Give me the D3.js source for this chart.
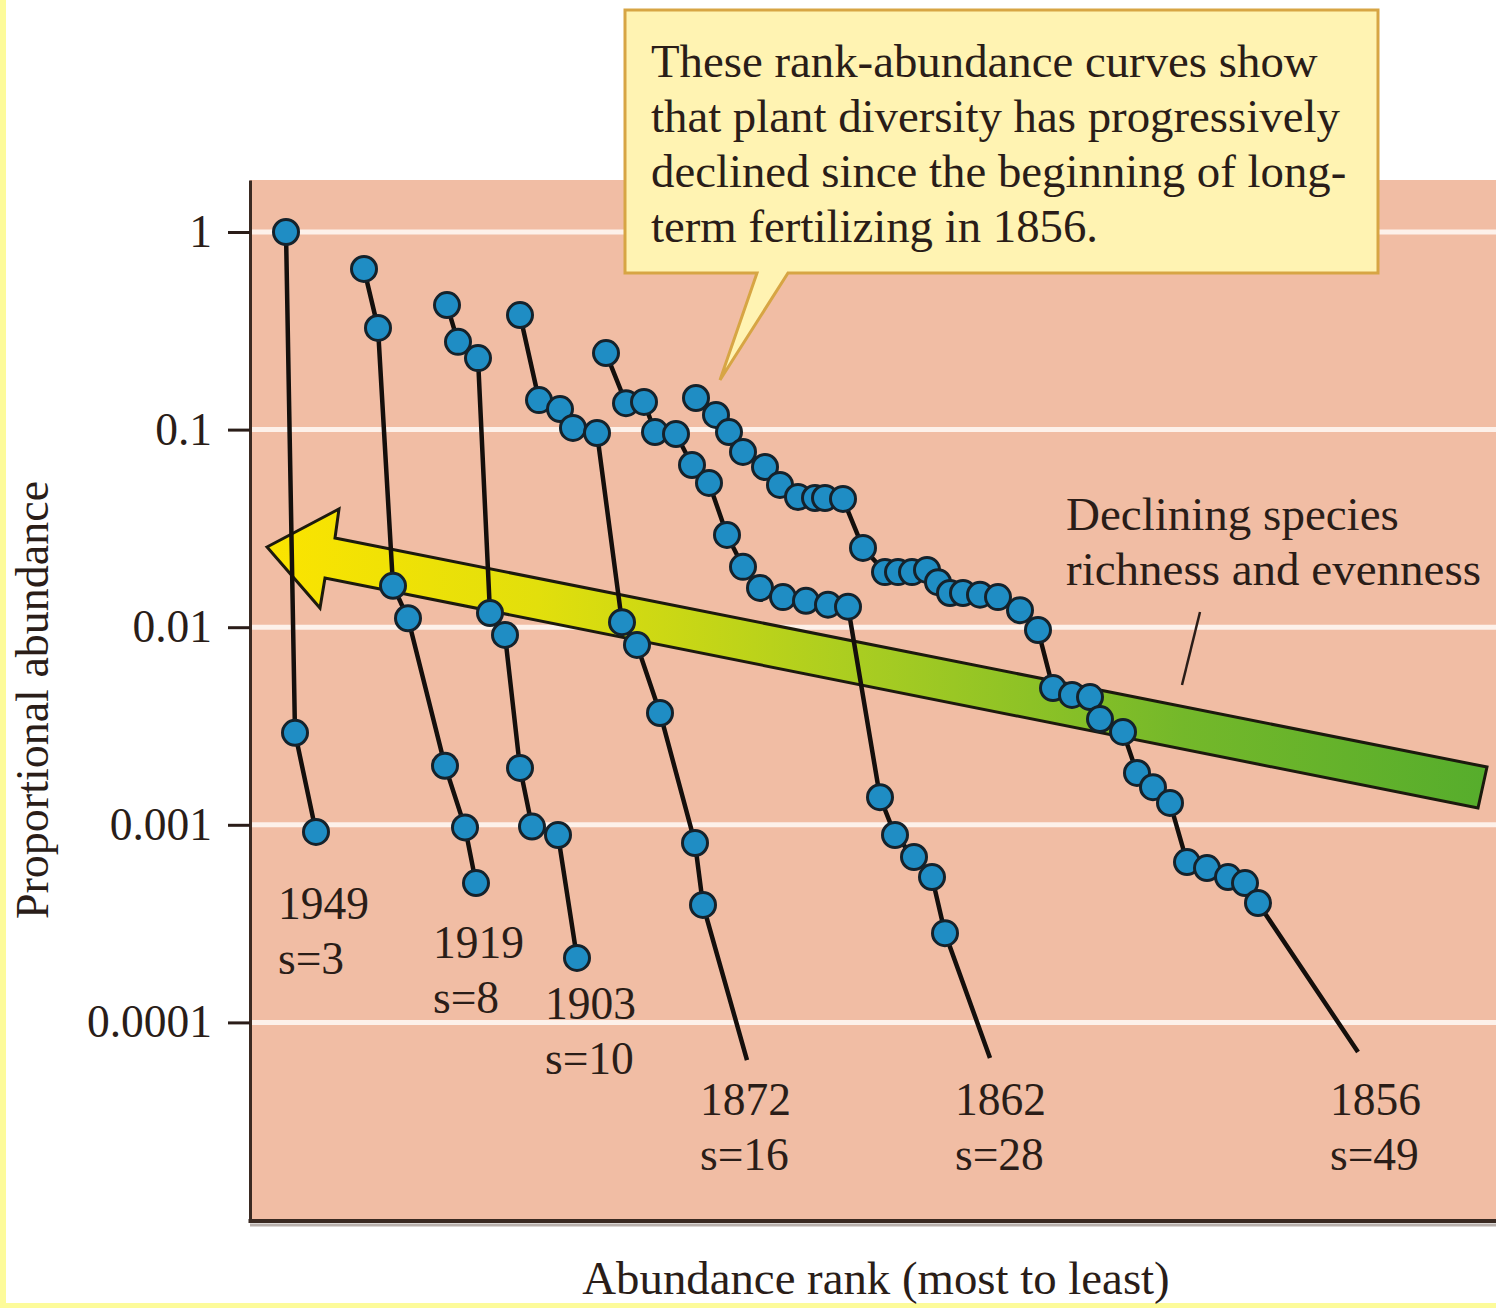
<!DOCTYPE html>
<html>
<head>
<meta charset="utf-8">
<script src="https://cdn.jsdelivr.net/npm/d3@7"></script>
<style>
  html, body { margin: 0; padding: 0; background: #ffffff; }
  svg { display: block; }
  text { font-family: "Liberation Serif", "Times New Roman", serif; fill: #2a1d18; }
</style>
</head>
<body>
<div id="chart"></div>
<script>
// Rank-abundance curves (rank position, proportional abundance)
const years = ["1949", "1919", "1903", "1872", "1862", "1856"];
const speciesCounts = [3, 8, 10, 16, 28, 49];

const ranks1949 = [3.6, 4.5, 6.6];
const abund1949 = [1, 0.00292, 0.00092];

const ranks1919 = [11.4, 12.8, 14.3, 15.8, 19.5, 21.5, 22.6];
const abund1919 = [0.65, 0.327, 0.0162, 0.0111, 0.00199, 0.00097, 0.000507];

const ranks1903 = [19.7, 20.8, 22.8, 24.0, 25.5, 27.0, 28.2, 30.8, 32.7];
const abund1903 = [0.427, 0.278, 0.23, 0.0118, 0.00914, 0.00194, 0.00098, 0.000888, 0.000212];

const ranks1872 = [27.0, 28.9, 31.0, 32.3, 34.7, 37.2, 38.7, 41.0, 44.5, 45.3];
const abund1872 = [0.38, 0.141, 0.127, 0.102, 0.0961, 0.0106, 0.00813, 0.00368, 0.000809, 0.000393];

const ranks1862 = [35.6, 37.6, 39.4, 40.5, 42.6, 44.2, 45.9, 47.7, 49.3, 51.0,
  53.3, 55.6, 57.8, 59.8, 63.0, 64.5, 66.4, 68.2, 69.5];
const abund1862 = [0.244, 0.136, 0.138, 0.0972, 0.095, 0.0662, 0.0537, 0.0293, 0.0202, 0.0158,
  0.0142, 0.0136, 0.013, 0.0127, 0.00138, 0.000888, 0.000687, 0.000544, 0.000283];

const ranks1856 = [44.6, 46.6, 47.9, 49.3, 51.5, 53.0, 54.8, 56.5, 57.5, 59.3,
  61.3, 63.5, 64.8, 66.2, 67.7, 68.8, 70.0, 71.3, 73.0, 74.8,
  77.0, 78.8, 80.3, 82.2, 84.0, 85.0, 87.3, 88.7, 90.3, 92.0,
  93.7, 95.7, 97.8, 99.5, 100.8];
const abund1856 = [0.1445, 0.1186, 0.0972, 0.0771, 0.0647, 0.0525, 0.0456, 0.0451, 0.0451, 0.0446,
  0.0252, 0.019, 0.019, 0.019, 0.0195, 0.0169, 0.0149, 0.0149, 0.0146, 0.0142,
  0.0122, 0.00968, 0.00492, 0.00454, 0.00443, 0.00343, 0.00295, 0.00183, 0.00155, 0.00129,
  0.000648, 0.000604, 0.000544, 0.000507, 0.000402];

// where the unmarked tail of a curve ends
const tailRanks = [null, null, null, 49.7, 74.0, 110.8];
const tailAbund = [null, null, null, 0.0000645, 0.0000661, 0.0000708];

const yTicks = [1, 0.1, 0.01, 0.001, 0.0001];
const yTickLabels = ["1", "0.1", "0.01", "0.001", "0.0001"];

const calloutLines = [
  "These rank-abundance curves show",
  "that plant diversity has progressively",
  "declined since the beginning of long-",
  "term fertilizing in 1856."
];
const arrowLines = ["Declining species", "richness and evenness"];

// ---- layout ----
const width = 1496, height = 1308;
const plot = { left: 250, right: 1496, top: 180, bottom: 1220 };
const labelPos = [[278, 919], [433, 958], [545, 1019], [700, 1115], [955, 1115], [1330, 1115]];

const allRanks = [ranks1949, ranks1919, ranks1903, ranks1872, ranks1862, ranks1856];
const allAbund = [abund1949, abund1919, abund1903, abund1872, abund1862, abund1856];

const series = years.map((yr, i) => {
  const pts = d3.zip(allRanks[i], allAbund[i]);
  const linePts = tailRanks[i] != null ? pts.concat([[tailRanks[i], tailAbund[i]]]) : pts;
  return { year: yr, s: speciesCounts[i], points: pts, linePoints: linePts, label: labelPos[i] };
});

const svg = d3.select("#chart").append("svg")
  .attr("width", width)
  .attr("height", height);

const x = d3.scaleLinear().domain([0, 124.6]).range([plot.left, plot.right]);
const y = d3.scaleLog().domain([1e-5, 1.833]).range([plot.bottom, plot.top]);

// yellow page edges
svg.append("rect").attr("x", 0).attr("y", 0).attr("width", 6).attr("height", height).attr("fill", "#fdfb9a");
svg.append("rect").attr("x", 0).attr("y", height - 5).attr("width", width).attr("height", 5).attr("fill", "#fdfb9a");

// plot background
svg.append("rect")
  .attr("x", plot.left).attr("y", plot.top)
  .attr("width", plot.right - plot.left).attr("height", plot.bottom - plot.top)
  .attr("fill", "#f1bda4");

// white gridlines
svg.append("g").selectAll("line")
  .data(yTicks)
  .join("line")
  .attr("x1", plot.left).attr("x2", plot.right)
  .attr("y1", d => y(d)).attr("y2", d => y(d))
  .attr("stroke", "#fdf1ea")
  .attr("stroke-width", 5);

// big gradient arrow
const defs = svg.append("defs");
const grad = defs.append("linearGradient")
  .attr("id", "arrowGrad")
  .attr("gradientUnits", "userSpaceOnUse")
  .attr("x1", 270).attr("y1", 0).attr("x2", 1487).attr("y2", 0);
[[0, "#fbe400"], [0.22, "#e2df0c"], [0.5, "#a6cc22"], [0.75, "#74b82a"], [1, "#56ad2c"]]
  .forEach(([o, c]) => grad.append("stop").attr("offset", o).attr("stop-color", c));

const arrowShape = [[267, 547], [339, 509], [335, 538], [1487, 767], [1478, 808], [325, 578], [320, 608]];
svg.append("path")
  .attr("d", d3.line()(arrowShape) + "Z")
  .attr("fill", "url(#arrowGrad)")
  .attr("stroke", "#1c1a0e")
  .attr("stroke-width", 3)
  .attr("stroke-linejoin", "miter");

// curves
const line = d3.line().x(d => x(d[0])).y(d => y(d[1]));

const curves = svg.append("g").selectAll("g")
  .data(series)
  .join("g");

curves.append("path")
  .attr("d", d => line(d.linePoints))
  .attr("fill", "none")
  .attr("stroke", "#140f0c")
  .attr("stroke-width", 4.5);

curves.selectAll("circle")
  .data(d => d.points)
  .join("circle")
  .attr("cx", d => x(d[0]))
  .attr("cy", d => y(d[1]))
  .attr("r", 12.5)
  .attr("fill", "#1f8dc4")
  .attr("stroke", "#15222b")
  .attr("stroke-width", 3);

// year / species labels
curves.append("text")
  .attr("x", d => d.label[0])
  .attr("y", d => d.label[1])
  .attr("font-size", 45.5)
  .text(d => d.year);
curves.append("text")
  .attr("x", d => d.label[0])
  .attr("y", d => d.label[1] + 55)
  .attr("font-size", 45.5)
  .text(d => "s=" + d.s);

// y axis
const yAxis = d3.axisLeft(y)
  .tickValues(yTicks)
  .tickFormat((d, i) => yTickLabels[i])
  .tickSizeInner(22)
  .tickSizeOuter(0)
  .tickPadding(16);

const gy = svg.append("g")
  .attr("transform", `translate(${plot.left},0)`)
  .call(yAxis);
gy.select(".domain").attr("stroke", "#3a2a22").attr("stroke-width", 3);
gy.selectAll(".tick line").attr("stroke", "#2a1d18").attr("stroke-width", 3);
gy.selectAll(".tick text")
  .attr("font-family", "Liberation Serif, serif")
  .attr("font-size", 45.5)
  .attr("fill", "#2a1d18");

// bottom frame with a soft shadow
svg.append("line")
  .attr("x1", plot.left).attr("x2", plot.right)
  .attr("y1", plot.bottom + 5).attr("y2", plot.bottom + 5)
  .attr("stroke", "#b8b0ac").attr("stroke-width", 3);
svg.append("line")
  .attr("x1", plot.left - 1.5).attr("x2", plot.right)
  .attr("y1", plot.bottom + 1).attr("y2", plot.bottom + 1)
  .attr("stroke", "#3a2a22").attr("stroke-width", 4);

// axis titles
svg.append("text")
  .attr("x", 876).attr("y", 1294)
  .attr("text-anchor", "middle")
  .attr("font-size", 46.8)
  .text("Abundance rank (most to least)");
svg.append("text")
  .attr("transform", "translate(48,700) rotate(-90)")
  .attr("text-anchor", "middle")
  .attr("font-size", 46)
  .text("Proportional abundance");

// arrow annotation
svg.append("g").selectAll("text")
  .data(arrowLines)
  .join("text")
  .attr("x", 1066)
  .attr("y", (d, i) => 530 + i * 55)
  .attr("font-size", 47)
  .text(d => d);
svg.append("line")
  .attr("x1", 1200).attr("y1", 612).attr("x2", 1182).attr("y2", 685)
  .attr("stroke", "#2a1d18").attr("stroke-width", 2.5);

// callout box with pointer
const box = { x0: 625, x1: 1378, y0: 10, y1: 273 };
const calloutPath = d3.path();
calloutPath.moveTo(box.x0, box.y0);
calloutPath.lineTo(box.x1, box.y0);
calloutPath.lineTo(box.x1, box.y1);
calloutPath.lineTo(788, box.y1);
calloutPath.lineTo(720, 380);
calloutPath.lineTo(757, box.y1);
calloutPath.lineTo(box.x0, box.y1);
calloutPath.closePath();
svg.append("path")
  .attr("d", calloutPath.toString())
  .attr("fill", "#fff3b2")
  .attr("stroke", "#d7a544")
  .attr("stroke-width", 3);

svg.append("g").selectAll("text")
  .data(calloutLines)
  .join("text")
  .attr("x", 651)
  .attr("y", (d, i) => 77 + i * 55)
  .attr("font-size", 46.8)
  .text(d => d);
</script>
</body>
</html>
